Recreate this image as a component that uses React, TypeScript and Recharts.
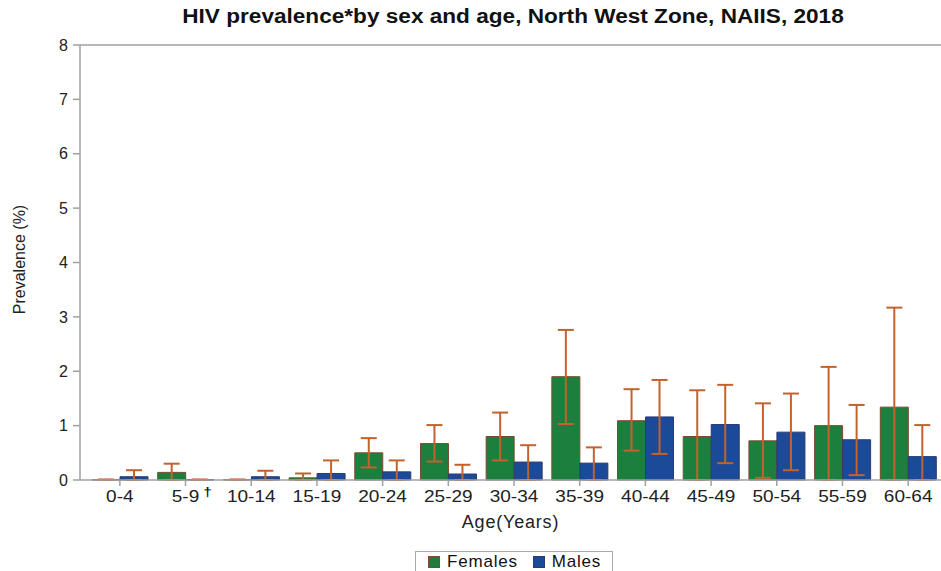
import React from 'react';
import { BarChart, Bar, XAxis, YAxis, ErrorBar, ReferenceLine } from 'recharts';

const categories = ['0-4', '5-9', '10-14', '15-19', '20-24', '25-29', '30-34', '35-39', '40-44', '45-49', '50-54', '55-59', '60-64'];
const females = [0.005, 0.14, 0.005, 0.04, 0.5, 0.67, 0.8, 1.9, 1.09, 0.8, 0.72, 1.0, 1.34];
const femalesLow = [0, 0, 0, 0, 0.23, 0.34, 0.36, 1.03, 0.54, 0, 0.04, 0, 0];
const femalesHigh = [0.01, 0.3, 0.01, 0.12, 0.77, 1.01, 1.24, 2.76, 1.67, 1.65, 1.41, 2.08, 3.17];
const males = [0.06, 0.005, 0.06, 0.12, 0.15, 0.11, 0.33, 0.31, 1.16, 1.02, 0.88, 0.74, 0.43];
const malesLow = [0, 0, 0, 0, 0, 0, 0, 0, 0.48, 0.31, 0.18, 0.09, 0];
const malesHigh = [0.18, 0.01, 0.17, 0.36, 0.36, 0.28, 0.64, 0.6, 1.84, 1.75, 1.59, 1.38, 1.01];
const yTicks = [0, 1, 2, 3, 4, 5, 6, 7, 8];
const daggerCategory = '5-9';

const GREEN = '#1d7f3d';
const BLUE = '#1b4a98';
const ERR = '#c3622e';
const AXIS = '#a0a0a0';
const FONT = '"Liberation Sans", Arial, sans-serif';

const data = categories.map((c, i) => ({
  cat: c,
  f: females[i],
  fErr: [females[i] - femalesLow[i], femalesHigh[i] - females[i]],
  m: males[i],
  mErr: [males[i] - malesLow[i], malesHigh[i] - males[i]],
}));

const XTick = (props: any) => {
  const { x, y, payload } = props;
  const v = payload.value;
  return (
    <g transform={`translate(${x},${y}) scale(1.12,1)`}>
      <text x={0} y={0} dy={13} textAnchor="middle" fontSize={17} fill="#222" fontFamily={FONT}>
        {v}
      </text>
      {v === daggerCategory && (
        <text x={16} y={0} dy={7} textAnchor="start" fontSize={13} fontWeight="bold" fill="#111" fontFamily={FONT}>
          †
        </text>
      )}
    </g>
  );
};

const YLabel = (props: any) => {
  const { viewBox } = props;
  const cx = viewBox.x + 19;
  const cy = viewBox.y + viewBox.height / 2 - 3;
  return (
    <text x={cx} y={cy} transform={`rotate(-90, ${cx}, ${cy})`} textAnchor="middle" dominantBaseline="central" fontSize={16} fill="#222" fontFamily={FONT}>
      Prevalence (%)
    </text>
  );
};

export default function App() {
  return (
    <div style={{ position: 'absolute', left: 0, top: 0, width: 941, height: 571, overflow: 'hidden', background: '#fff', fontFamily: FONT }}>
      <div style={{ position: 'absolute', left: 513, top: 5, transform: 'translateX(-50%) scaleX(1.13)', whiteSpace: 'nowrap', fontSize: 20, fontWeight: 'bold', color: '#111' }}>
        HIV prevalence*by sex and age, North West Zone, NAIIS, 2018
      </div>
      <BarChart
        width={941}
        height={571}
        data={data}
        margin={{ top: 45, right: 0, bottom: 41, left: 0 }}
        barCategoryGap={5}
        barGap={0}
      >
        <ReferenceLine y={8} stroke={AXIS} strokeWidth={1.5} />
        <XAxis
          dataKey="cat"
          height={50}
          padding={{ left: 7, right: 0 }}
          axisLine={{ stroke: AXIS, strokeWidth: 1.5 }}
          tickLine={{ stroke: AXIS, strokeWidth: 1.5 }}
          tickSize={6}
          tickMargin={3}
          tick={<XTick />}
          interval={0}
          label={{ value: 'Age(Years)', position: 'insideBottom', offset: 2, fontSize: 18, letterSpacing: 0.8, fill: '#222', fontFamily: FONT }}
        />
        <YAxis
          domain={[0, 8]}
          ticks={yTicks}
          width={80}
          axisLine={{ stroke: AXIS, strokeWidth: 1.5 }}
          tickLine={{ stroke: AXIS, strokeWidth: 1.5 }}
          tickSize={7}
          tickMargin={5}
          tick={{ fontSize: 16, fill: '#222', fontFamily: FONT }}
          label={<YLabel />}
        />
        <Bar dataKey="f" fill={GREEN} stroke="#7a4a2a" strokeWidth={1} isAnimationActive={false}>
          <ErrorBar dataKey="fErr" width={8} stroke={ERR} strokeWidth={2} direction="y" />
        </Bar>
        <Bar dataKey="m" fill={BLUE} stroke="#2a3a70" strokeWidth={1} isAnimationActive={false}>
          <ErrorBar dataKey="mErr" width={8} stroke={ERR} strokeWidth={2} direction="y" />
        </Bar>
      </BarChart>
      <div style={{ position: 'absolute', left: 415, top: 551, width: 198, height: 20, border: '1px solid #aaa', borderBottom: 'none', boxSizing: 'border-box', display: 'flex', alignItems: 'center', paddingLeft: 12, fontSize: 17, lineHeight: '17px', letterSpacing: 0.8, color: '#111' }}>
        <span style={{ display: 'inline-block', width: 10, height: 10, background: GREEN, border: '1px solid #7a4a2a', marginRight: 7 }} />
        <span style={{ marginRight: 15 }}>Females</span>
        <span style={{ display: 'inline-block', width: 10, height: 10, background: BLUE, border: '1px solid #2a3a70', marginRight: 7 }} />
        <span>Males</span>
      </div>
    </div>
  );
}
